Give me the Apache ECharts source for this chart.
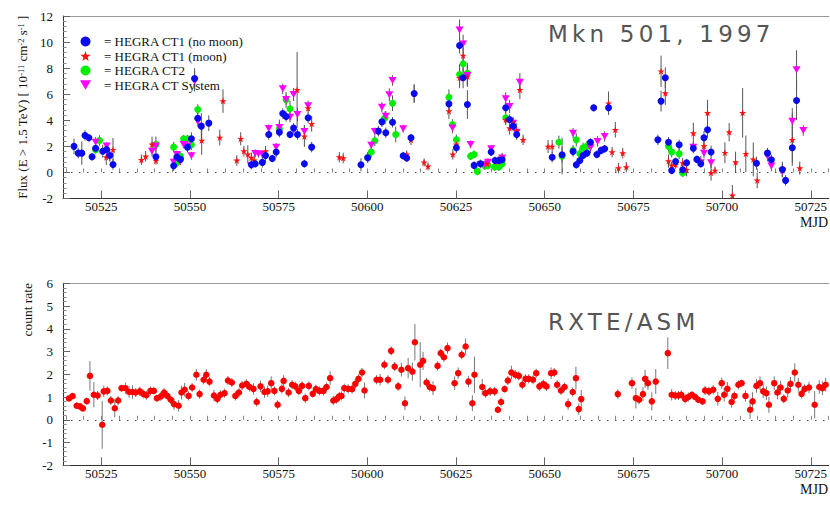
<!DOCTYPE html>
<html><head><meta charset="utf-8">
<script src="https://cdn.jsdelivr.net/npm/echarts@6/dist/echarts.min.js"></script>
<style>html,body{margin:0;padding:0;background:#fff}#c{width:830px;height:526px}
#c text[style*="DejaVu"]{letter-spacing:4.2px}</style>
</head><body><div id="c"></div>
<script>
// ---- data: [MJD, value, error] ----
const ct1NoMoon = [[50517.3,2.0,0.6],[50518.5,1.48,0.4],[50519.5,1.48,0.9],[50520.4,2.84,0.4],[50521.5,2.66,0.3],[50522.4,1.2,0.3],[50523.4,1.86,0.4],[50525.4,1.63,0.5],[50526.5,1.76,0.5],[50527.4,1.3,0.4],[50528.3,0.61,0.4],[50540.4,1.2,0.4],[50545.4,0.51,0.4],[50546.3,1.18,0.4],[50547.3,1.0,0.4],[50549.3,1.94,0.4],[50550.4,2.58,0.5],[50551.3,7.2,0.8],[50552.2,4.16,0.5],[50553.2,3.55,1.0],[50555.3,3.78,0.6],[50567.3,0.59,0.3],[50568.4,0.67,0.3],[50570.4,0.77,0.4],[50571.3,1.3,0.5],[50572.2,2.91,0.4],[50573.2,1.07,0.3],[50574.3,1.56,0.4],[50575.2,3.09,0.4],[50576.15,4.52,0.4],[50577.1,4.29,0.4],[50578.2,2.91,0.3],[50579.2,3.4,0.4],[50580.3,2.91,0.4],[50582.25,0.67,0.3],[50583.3,4.19,0.4],[50584.3,1.94,0.4],[50598.2,0.59,0.5],[50600.1,1.13,0.4],[50603.1,3.17,0.4],[50604.1,3.88,0.4],[50605.2,3.04,0.4],[50607.1,3.85,0.4],[50610.1,1.28,0.3],[50611.1,1.1,0.3],[50612.3,2.66,0.3],[50613.2,6.05,0.7],[50623.0,5.26,0.6],[50625.1,1.89,0.4],[50626.0,9.73,0.6],[50627.0,7.26,0.8],[50628.2,5.21,1.1],[50630.1,0.54,0.3],[50631.9,0.67,0.3],[50634.9,1.56,0.3],[50636.0,0.92,0.3],[50637.1,0.92,0.3],[50638.0,0.97,0.3],[50639.0,4.96,0.4],[50640.1,4.06,0.4],[50641.1,3.55,0.4],[50642.1,2.91,0.4],[50652.1,1.17,0.4],[50654.9,1.36,0.6],[50658.0,1.61,0.4],[50658.9,0.59,0.3],[50659.9,0.92,0.3],[50660.8,1.3,0.3],[50661.9,1.48,0.3],[50662.9,2.32,0.3],[50663.8,4.96,0.3],[50664.7,1.38,0.3],[50665.9,1.69,0.3],[50666.9,1.81,0.3],[50668.0,4.96,0.4],[50681.9,2.5,0.4],[50682.8,5.47,0.8],[50684.0,7.26,0.8],[50684.9,2.32,0.4],[50685.8,0.15,0.3],[50686.9,0.84,0.3],[50687.9,2.12,0.4],[50688.9,0.2,0.3],[50690.0,0.74,0.3],[50691.9,1.86,0.4],[50692.9,1.0,0.3],[50694.0,0.67,0.3],[50694.9,2.66,0.5],[50695.9,3.27,0.6],[50696.9,1.56,0.5],[50709.7,0.71,0.5],[50712.8,1.48,0.4],[50713.9,0.97,0.4],[50717.0,0.23,0.6],[50717.9,-0.61,0.4],[50719.8,1.89,1.1],[50721.0,5.52,1.5]];
const ct1Moon = [[50526.4,1.17,0.6],[50528.3,1.74,0.9],[50536.3,0.97,0.4],[50537.5,1.23,0.4],[50539.3,2.15,0.6],[50540.4,0.9,0.3],[50553.3,2.45,1.1],[50558.4,2.68,0.6],[50559.3,5.47,0.9],[50563.2,0.92,0.4],[50564.3,2.58,0.5],[50565.2,1.63,0.4],[50566.3,1.38,0.7],[50567.3,1.13,0.4],[50568.1,0.92,0.4],[50571.3,1.63,0.4],[50580.2,6.33,2.9],[50582.25,2.76,0.8],[50583.3,4.93,0.4],[50584.3,3.73,0.6],[50592.1,1.17,0.4],[50593.2,1.1,0.4],[50611.1,1.38,0.3],[50612.3,2.5,0.4],[50613.2,6.05,0.7],[50616.0,0.77,0.3],[50617.1,0.46,0.3],[50623.0,4.7,0.6],[50624.1,1.38,0.4],[50625.1,2.15,0.4],[50626.0,7.26,0.8],[50627.0,8.97,0.6],[50628.2,7.36,0.8],[50633.8,0.67,0.3],[50636.9,0.84,0.4],[50638.0,1.1,0.4],[50639.0,4.04,0.4],[50640.1,3.4,0.5],[50641.1,3.85,0.4],[50642.1,3.17,0.6],[50643.0,6.33,0.7],[50643.9,2.5,0.4],[50650.95,1.99,0.5],[50652.1,1.99,0.5],[50668.0,5.31,0.9],[50669.0,1.56,0.4],[50669.9,3.27,0.6],[50670.8,0.33,0.4],[50672.0,1.48,0.4],[50673.0,0.41,0.4],[50682.8,7.76,1.2],[50684.0,6.08,0.9],[50684.9,0.87,0.5],[50685.8,0.54,0.3],[50686.9,0.59,0.3],[50688.9,0.71,0.4],[50690.0,0.2,0.5],[50691.9,3.01,0.8],[50694.0,0.87,0.4],[50694.9,2.02,0.5],[50695.9,4.57,1.0],[50696.9,-0.03,0.6],[50698.0,0.15,0.3],[50700.8,1.51,0.8],[50702.0,3.09,0.7],[50702.9,-1.76,0.8],[50703.8,0.79,0.8],[50705.8,4.57,1.9],[50706.7,1.43,1.4],[50708.8,1.0,1.3],[50709.9,-0.61,0.6],[50717.0,0.15,0.5],[50719.8,2.5,2.0],[50721.9,0.33,0.5]];
const ct2 = [[50523.4,1.74,0.3],[50524.5,2.45,0.4],[50540.4,2.15,0.6],[50545.4,1.94,0.4],[50546.3,0.74,0.3],[50547.3,1.25,0.3],[50548.2,2.58,0.3],[50549.3,2.58,0.3],[50550.4,2.12,0.4],[50552.2,4.83,0.4],[50575.2,3.35,0.5],[50577.1,5.57,0.6],[50578.2,4.88,0.6],[50600.1,1.15,0.4],[50601.1,1.56,0.4],[50602.1,2.43,0.4],[50605.0,4.19,0.5],[50607.1,5.31,0.6],[50608.0,2.91,0.6],[50623.0,5.77,0.6],[50624.0,3.68,0.4],[50625.1,2.5,0.4],[50626.0,7.51,0.8],[50627.0,8.33,0.6],[50628.2,7.61,0.8],[50629.1,1.25,0.3],[50630.1,1.38,0.3],[50631.0,0.08,0.3],[50631.9,0.67,0.3],[50633.1,0.49,0.3],[50634.0,0.54,0.3],[50635.9,0.41,0.3],[50637.1,0.41,0.3],[50638.0,0.67,0.3],[50639.0,4.19,0.5],[50654.0,2.32,0.5],[50654.9,1.25,1.4],[50658.0,1.69,0.4],[50658.9,2.5,0.5],[50659.9,1.43,0.4],[50660.8,1.89,0.4],[50661.9,2.02,0.4],[50684.9,1.99,0.4],[50685.8,1.56,0.4],[50687.9,1.43,0.4],[50688.9,-0.05,0.3]];
const ctSystem = [[50523.4,2.32,0.4],[50526.5,2.02,0.3],[50527.4,1.23,0.4],[50539.3,1.63,0.4],[50540.4,2.02,0.4],[50545.4,0.79,0.3],[50546.3,1.38,0.3],[50547.3,0.87,0.3],[50548.2,2.15,0.3],[50549.3,2.02,0.3],[50550.4,1.28,0.3],[50551.3,7.0,0.8],[50552.2,3.9,0.4],[50567.3,0.54,0.3],[50568.4,1.46,0.3],[50569.3,1.43,0.3],[50570.4,1.38,0.3],[50572.2,3.37,0.3],[50574.3,1.94,0.3],[50575.2,3.45,0.6],[50576.15,6.41,0.4],[50577.1,5.59,0.4],[50578.2,4.24,0.4],[50579.2,5.98,0.5],[50580.3,4.44,0.5],[50582.25,3.14,0.5],[50583.3,5.11,0.4],[50601.1,2.09,0.3],[50602.1,3.14,0.3],[50604.1,5.0,0.4],[50605.2,4.31,0.4],[50606.2,5.95,0.5],[50607.1,7.05,0.4],[50610.1,3.35,0.3],[50624.0,3.4,0.4],[50626.0,10.93,0.8],[50627.0,9.86,0.7],[50628.2,7.43,0.8],[50629.1,2.15,0.3],[50631.9,0.61,0.3],[50633.1,0.61,0.3],[50634.0,0.79,0.3],[50634.9,1.81,0.3],[50638.0,1.1,0.3],[50639.0,5.65,0.5],[50640.1,5.06,0.5],[50641.1,3.78,0.4],[50642.1,3.09,0.4],[50643.0,6.92,0.7],[50658.0,3.01,0.4],[50662.9,1.89,0.4],[50664.9,2.38,0.4],[50666.9,2.76,0.4],[50691.9,1.94,0.4],[50694.0,0.74,0.3],[50694.9,1.48,0.4],[50696.9,0.74,0.4],[50712.8,1.25,0.4],[50713.9,0.49,0.4],[50717.0,0.1,0.4],[50719.8,3.93,1.0],[50721.0,7.87,1.5],[50722.9,3.22,0.4]];
const asm = [[50515.9,0.94,0.12],[50516.9,1.04,0.12],[50518.05,0.62,0.15],[50519.0,0.59,0.15],[50519.8,0.5,0.12],[50520.9,0.82,0.15],[50521.8,1.93,0.65],[50522.9,1.1,0.55],[50523.95,1.07,0.2],[50525.25,-0.22,1.05],[50525.7,1.25,0.25],[50526.7,1.27,0.2],[50527.7,0.85,0.2],[50528.8,0.51,0.4],[50529.75,0.85,0.2],[50530.7,1.39,0.15],[50531.8,1.39,0.25],[50532.85,1.22,0.25],[50533.8,1.22,0.3],[50534.7,1.2,0.2],[50535.85,1.25,0.2],[50536.8,1.14,0.2],[50537.7,1.08,0.2],[50538.85,1.27,0.2],[50539.8,1.27,0.15],[50540.7,0.95,0.15],[50541.8,1.03,0.2],[50542.7,1.2,0.2],[50543.6,1.05,0.2],[50544.6,0.88,0.2],[50545.5,0.69,0.25],[50546.8,0.62,0.25],[50547.6,1.2,0.3],[50548.5,1.32,0.3],[50549.6,1.05,0.2],[50550.6,1.42,0.2],[50551.8,1.98,0.25],[50552.7,1.13,0.2],[50553.85,1.76,0.2],[50554.6,1.98,0.25],[50555.5,1.68,0.2],[50556.75,1.07,0.25],[50557.7,0.92,0.2],[50558.6,1.1,0.2],[50559.75,1.17,0.2],[50560.7,1.73,0.2],[50561.8,1.64,0.2],[50562.8,1.05,0.2],[50563.8,1.2,0.2],[50564.7,1.51,0.2],[50565.9,1.58,0.2],[50566.8,1.44,0.2],[50567.9,1.36,0.25],[50568.8,0.78,0.2],[50569.9,1.47,0.25],[50571.0,1.22,0.25],[50571.9,1.25,0.25],[50572.9,1.61,0.3],[50573.8,1.27,0.2],[50574.7,0.66,0.2],
[50575.9,1.36,0.2],[50576.4,1.71,0.25],[50577.8,1.2,0.2],[50578.8,1.54,0.2],[50579.7,1.47,0.2],[50580.7,1.27,0.2],[50581.6,1.49,0.2],[50582.5,0.95,0.2],[50583.5,1.49,0.2],[50584.6,1.14,0.15],[50585.5,1.35,0.2],[50586.5,1.27,0.2],[50587.6,1.27,0.2],[50588.5,1.44,0.2],[50589.5,1.83,0.3],[50590.4,0.85,0.2],[50591.3,0.91,0.2],[50592.1,1.03,0.2],[50592.7,1.05,0.2],[50593.5,1.39,0.2],[50594.6,1.36,0.2],[50595.7,1.35,0.2],[50596.6,1.58,0.2],[50597.5,1.8,0.2],[50598.5,2.08,0.2],[50599.2,1.29,0.35],[50602.6,1.76,0.2],[50603.6,1.76,0.25],[50604.8,2.42,0.2],[50605.8,1.76,0.2],[50606.7,3.03,0.2],[50607.7,2.34,0.2],[50608.7,1.47,0.2],[50609.6,2.2,0.3],[50610.6,0.73,0.3],[50611.5,2.27,0.45],[50612.7,2.12,0.4],[50613.4,3.41,0.8],[50614.9,2.42,1.0],[50615.7,2.59,0.4],[50616.7,1.64,0.2],[50617.6,1.44,0.2],[50618.5,1.39,0.3],[50619.8,2.37,0.2],[50620.7,2.93,0.2],[50621.6,2.75,0.2],[50622.6,3.15,0.25],[50624.6,1.61,0.3],[50625.6,2.05,0.25],
[50626.6,2.86,0.2],[50627.7,3.22,0.35],[50628.5,1.68,0.25],[50629.6,0.73,0.35],[50630.2,1.98,0.8],[50632.4,1.44,0.35],[50633.3,1.17,0.2],[50634.6,1.25,0.2],[50635.9,1.25,0.2],[50636.8,0.44,0.15],[50637.7,0.78,0.2],[50638.7,1.35,0.15],[50639.6,1.73,0.2],[50640.6,2.08,0.3],[50641.7,1.98,0.2],[50642.7,1.93,0.2],[50643.7,1.54,0.2],[50644.6,1.8,0.2],[50645.5,1.8,0.2],[50646.7,1.76,0.2],[50647.6,2.05,0.2],[50648.5,1.47,0.2],[50649.6,1.57,0.2],[50650.5,1.47,0.2],[50651.8,2.05,0.25],[50652.7,2.08,0.2],[50653.5,1.54,0.2],[50654.6,1.29,0.2],[50655.6,1.44,0.2],[50656.6,0.69,0.25],[50657.9,1.22,0.2],[50658.8,1.83,0.5],[50659.6,0.47,0.25],[50660.3,0.91,0.4],[50670.6,1.13,0.2],[50674.6,1.61,0.25],[50675.7,0.95,0.45],[50676.6,0.88,0.2],[50677.7,1.13,0.3],[50678.3,1.8,0.4],[50679.1,1.61,0.3],
[50680.2,0.81,0.4],[50681.3,1.68,0.55],[50684.7,2.93,0.7],[50685.8,1.1,0.25],[50686.8,1.07,0.2],[50687.7,1.07,0.2],[50688.5,1.1,0.2],[50689.6,0.92,0.2],[50690.5,1.0,0.2],[50691.5,1.1,0.15],[50692.4,1.0,0.15],[50693.3,0.88,0.15],[50694.5,0.81,0.15],[50695.2,1.29,0.2],[50696.3,1.25,0.2],[50697.5,1.32,0.2],[50698.8,0.92,0.3],[50699.9,1.61,0.25],[50700.6,1.1,0.3],[50701.5,1.36,0.3],[50702.7,0.78,0.25],[50703.5,1.05,0.2],[50704.6,1.54,0.2],[50705.5,1.61,0.15],[50706.6,1.05,0.25],[50707.9,0.44,0.4],[50708.6,0.81,0.4],[50709.7,1.49,0.3],[50710.7,1.61,0.3],[50711.6,1.25,0.3],[50712.5,1.17,0.3],[50713.2,0.66,0.35],[50714.7,1.61,0.3],[50715.6,1.2,0.3],[50716.5,1.42,0.3],[50717.4,0.92,0.2],[50718.5,1.29,0.3],[50719.3,1.58,0.3],[50720.5,2.08,0.4],[50721.5,1.54,0.3],[50722.4,1.14,0.2],[50723.3,1.36,0.2],[50724.5,1.42,0.25],[50726.1,0.66,0.6],[50727.4,1.44,0.3],[50728.3,1.39,0.3],[50729.2,1.54,0.3]];
const xMajorTicks = [50525, 50550, 50575, 50600, 50625, 50650, 50675, 50700, 50725];
const xMinorTicks = [];
for (let t = 50515; t <= 50730; t += 5) xMinorTicks.push(t);
const seriesNames = ['= HEGRA CT1 (no moon)', '= HEGRA CT1 (moon)', '= HEGRA CT2', '= HEGRA CT System'];
const titleTop = 'Mkn 501, 1997';
const titleBottom = 'RXTE/ASM';

// ---- chart ----
const XMIN = 50514.2, XMAX = 50730.07;
const SERIF = 'Liberation Serif';
const STAR = 'path://M50,0 L61.8,35.3 L98.5,35.3 L68.8,57.1 L79.9,92.4 L50,70.6 L20.1,92.4 L31.2,57.1 L1.5,35.3 L38.2,35.3 Z';
const TRI_DOWN = 'path://M0,0 L100,0 L50,87 Z';

const chart = echarts.init(document.getElementById('c'), null, {renderer: 'svg'});

function xAxes(gridIndex) {
  return [
    {gridIndex, type: 'value', min: XMIN, max: XMAX, position: 'bottom',
     axisLine: {show: true, onZero: false, lineStyle: {color: '#333', width: 1}},
     axisTick: {show: true, inside: true, length: 8, customValues: xMajorTicks, lineStyle: {color: '#666'}},
     axisLabel: {show: true, customValues: xMajorTicks, margin: 1.5, fontFamily: SERIF, fontSize: 13, color: '#111',
                 formatter: v => String(Math.round(v))},
     splitLine: {show: false}},
    {gridIndex, type: 'value', min: XMIN, max: XMAX, position: 'bottom',
     axisLine: {show: false},
     axisTick: {show: true, inside: true, length: 4, customValues: xMinorTicks, lineStyle: {color: '#888'}},
     axisLabel: {show: false}, splitLine: {show: false}},
    {gridIndex, type: 'value', min: XMIN, max: XMAX, position: 'top',
     axisLine: {show: true, onZero: false, lineStyle: {color: '#999', width: 1}},
     axisTick: {show: false}, axisLabel: {show: false}, splitLine: {show: false}}
  ];
}

function yAxis(gridIndex, min, max, interval, extra) {
  return Object.assign({
    gridIndex, type: 'value', min, max, interval,
    axisLine: {show: true, onZero: false, lineStyle: {color: '#333', width: 1}},
    axisTick: {show: true, inside: true, length: 7, lineStyle: {color: '#666'}},
    minorTick: {show: true, splitNumber: 5, length: 3.5, lineStyle: {color: '#888'}},
    axisLabel: {margin: 10, fontFamily: SERIF, fontSize: 13, color: '#111'},
    splitLine: {show: false}
  }, extra || {});
}

function errSeries(data, xi, yi, color) {
  return {
    type: 'custom', xAxisIndex: xi, yAxisIndex: yi, data, silent: true, clip: true, z: 1,
    encode: {x: 0, y: 1},
    renderItem: function (params, api) {
      const x = api.value(0), y = api.value(1), e = api.value(2);
      const p1 = api.coord([x, y - e]), p2 = api.coord([x, y + e]);
      return {type: 'line', shape: {x1: p1[0], y1: p1[1], x2: p2[0], y2: p2[1]},
              style: {stroke: color, lineWidth: 1}};
    }
  };
}

function scatter(name, data, xi, yi, symbol, size, color, z) {
  return {
    name, type: 'scatter', xAxisIndex: xi, yAxisIndex: yi, data,
    symbol, symbolSize: size, itemStyle: {color, opacity: 1}, z: z || 3,
    encode: {x: 0, y: 1}
  };
}

const zeroLine = {
  silent: true, symbol: 'none', label: {show: false},
  lineStyle: {type: [1.5, 6.5], color: '#444', width: 1},
  data: [{yAxis: 0}]
};

const topSeries = [
  errSeries(ct2, 0, 0, '#555'),
  errSeries(ctSystem, 0, 0, '#555'),
  errSeries(ct1Moon, 0, 0, '#555'),
  errSeries(ct1NoMoon, 0, 0, '#555'),
  scatter(seriesNames[2], ct2, 0, 0, 'circle', 7, '#00ee00', 3),
  scatter(seriesNames[3], ctSystem, 0, 0, TRI_DOWN, [8, 7], '#ff00ff', 4),
  scatter(seriesNames[1], ct1Moon, 0, 0, STAR, 7, '#ff1010', 5),
  scatter(seriesNames[0], ct1NoMoon, 0, 0, 'circle', 7, '#0a0aee', 6)
];
topSeries[4].markLine = zeroLine;

const bottomSeries = [
  errSeries(asm, 3, 1, '#777'),
  Object.assign(scatter('ASM', asm, 3, 1, 'circle', 6.5, '#ff0000', 3), {markLine: zeroLine})
];

chart.setOption({
  animation: false,
  backgroundColor: '#fff',
  title: [
    {text: titleTop, left: 543, top: 17,
     textStyle: {fontFamily: 'DejaVu Sans', fontSize: 23, fontWeight: 'normal', color: '#555'}},
    {text: titleBottom, left: 543, top: 305,
     textStyle: {fontFamily: 'DejaVu Sans', fontSize: 23, fontWeight: 'normal', color: '#555'}}
  ],
  legend: {
    left: 80, top: 35, orient: 'vertical', padding: 0, itemGap: 1.5,
    itemWidth: 11, itemHeight: 10, selectedMode: false,
    textStyle: {fontFamily: SERIF, fontSize: 13, color: '#111', lineHeight: 13, padding: [0, 0, 0, 8]},
    data: [
      {name: seriesNames[0], icon: 'circle', itemStyle: {color: '#0a0aee'}},
      {name: seriesNames[1], icon: STAR, itemStyle: {color: '#ff1010'}},
      {name: seriesNames[2], icon: 'circle', itemStyle: {color: '#00ee00'}},
      {name: seriesNames[3], icon: TRI_DOWN, itemStyle: {color: '#ff00ff'}}
    ]
  },
  grid: [
    {left: 63, top: 16, right: 0, height: 182.5},
    {left: 63, top: 283.3, right: 0, height: 182}
  ],
  xAxis: xAxes(0).concat(xAxes(1)),
  yAxis: [
    yAxis(0, -2, 12, 2, {
      name: '{n|Flux (E > 1.5 TeV) [ 10}{s|-11}{n| cm}{s|-2}{n| s}{s|-1}{n| ]}',
      nameLocation: 'middle', nameGap: 28,
      nameTextStyle: {fontFamily: SERIF, color: '#111',
        rich: {n: {fontFamily: SERIF, fontSize: 13, lineHeight: 13, verticalAlign: 'bottom', color: '#111'},
               s: {fontFamily: SERIF, fontSize: 8.5, lineHeight: 9, verticalAlign: 'top', color: '#111'}}}
    }),
    yAxis(1, -2, 6, 1)
  ],
  graphic: [
    {type: 'text', x: 27, y: 283, rotation: Math.PI / 2,
     style: {text: 'count rate', font: '13.5px "Liberation Serif"', fill: '#111', textAlign: 'right', textVerticalAlign: 'middle'}},
    {type: 'text', left: 800, top: 215, style: {text: 'MJD', font: '14px "Liberation Serif"', fill: '#111'}},
    {type: 'text', left: 800, top: 482, style: {text: 'MJD', font: '14px "Liberation Serif"', fill: '#111'}}
  ],
  series: topSeries.concat(bottomSeries)
});

function spaceTitles() {
  document.querySelectorAll('#c text').forEach(t => {
    const s = t.textContent;
    if (s === titleTop || s === titleBottom) t.setAttribute('letter-spacing', '4.2');
  });
}
spaceTitles();
setTimeout(spaceTitles, 0);
</script>
</body></html>
